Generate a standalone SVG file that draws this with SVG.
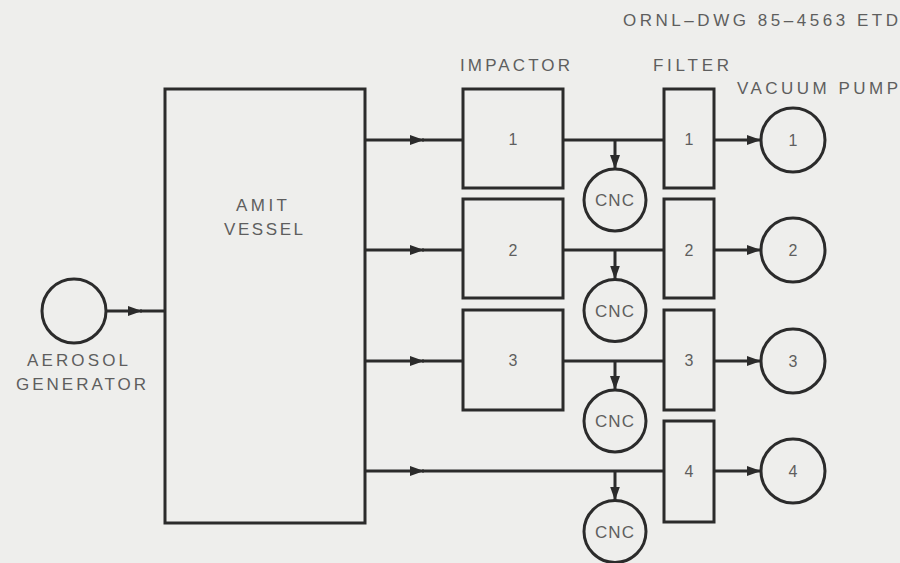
<svg xmlns="http://www.w3.org/2000/svg" width="900" height="563" viewBox="0 0 900 563">
<style>
.bg{fill:#eeeeec}
.box{fill:none;stroke:#2b2b2b;stroke-width:3}
.ln{fill:none;stroke:#2b2b2b;stroke-width:3}
.t{font-family:"Liberation Sans",Arial,sans-serif;font-size:17px;fill:#5e5e5e}
.n{font-size:16px}
.c{text-anchor:middle}
</style>
<defs>
<marker id="ah" viewBox="0 0 14 10" refX="14" refY="5" markerWidth="14" markerHeight="10" markerUnits="userSpaceOnUse" orient="auto">
<path d="M0,0 L14,5 L0,10 z" fill="#2b2b2b"/>
</marker>
</defs>
<rect class="bg" x="0" y="0" width="900" height="563"/>

<text class="t" x="623" y="26" textLength="275" lengthAdjust="spacing">ORNL–DWG 85–4563 ETD</text>
<text class="t" x="460" y="71" textLength="110" lengthAdjust="spacing">IMPACTOR</text>
<text class="t" x="653" y="71" textLength="76" lengthAdjust="spacing">FILTER</text>
<text class="t" x="737" y="94" textLength="161" lengthAdjust="spacing">VACUUM PUMP</text>

<g id="generator">
<circle class="box" cx="74" cy="311" r="32"/>
<text class="t" x="27" y="366" textLength="101" lengthAdjust="spacing">AEROSOL</text>
<text class="t" x="16" y="390" textLength="130" lengthAdjust="spacing">GENERATOR</text>
</g>

<g id="vessel">
<rect class="box" x="165" y="89" width="200" height="434"/>
<text class="t" x="236" y="211" textLength="51" lengthAdjust="spacing">AMIT</text>
<text class="t" x="224" y="235" textLength="79" lengthAdjust="spacing">VESSEL</text>
</g>

<g id="impactor1"><rect class="box" x="463" y="89" width="100" height="99"/><text class="t n c" x="513" y="145">1</text></g>
<g id="impactor2"><rect class="box" x="463" y="199" width="100" height="99"/><text class="t n c" x="513" y="256">2</text></g>
<g id="impactor3"><rect class="box" x="463" y="310" width="100" height="100"/><text class="t n c" x="513" y="366">3</text></g>

<g id="filter1"><rect class="box" x="664" y="89" width="50" height="99"/><text class="t n c" x="689" y="145">1</text></g>
<g id="filter2"><rect class="box" x="664" y="199" width="50" height="99"/><text class="t n c" x="689" y="256">2</text></g>
<g id="filter3"><rect class="box" x="664" y="310" width="50" height="100"/><text class="t n c" x="689" y="366">3</text></g>
<g id="filter4"><rect class="box" x="664" y="421" width="50" height="101"/><text class="t n c" x="689" y="477">4</text></g>

<g id="pump1"><circle class="box" cx="793" cy="140" r="32"/><text class="t n c" x="793" y="146">1</text></g>
<g id="pump2"><circle class="box" cx="793" cy="250" r="32"/><text class="t n c" x="793" y="256">2</text></g>
<g id="pump3"><circle class="box" cx="793" cy="361" r="32"/><text class="t n c" x="793" y="367">3</text></g>
<g id="pump4"><circle class="box" cx="793" cy="471" r="32"/><text class="t n c" x="793" y="477">4</text></g>

<g id="cnc1"><circle class="box" cx="615" cy="200" r="31"/><text class="t c" x="615" y="206" letter-spacing="1">CNC</text></g>
<g id="cnc2"><circle class="box" cx="615" cy="310.5" r="31"/><text class="t c" x="615" y="316.5" letter-spacing="1">CNC</text></g>
<g id="cnc3"><circle class="box" cx="615" cy="421" r="31"/><text class="t c" x="615" y="427" letter-spacing="1">CNC</text></g>
<g id="cnc4"><circle class="box" cx="615" cy="531.5" r="31"/><text class="t c" x="615" y="537.5" letter-spacing="1">CNC</text></g>

<g id="connectors">
<line class="ln" x1="106" y1="311" x2="142" y2="311" marker-end="url(#ah)"/>
<line class="ln" x1="140" y1="311" x2="165" y2="311"/>

<line class="ln" x1="365" y1="140" x2="424" y2="140" marker-end="url(#ah)"/>
<line class="ln" x1="422" y1="140" x2="463" y2="140"/>
<line class="ln" x1="365" y1="250" x2="424" y2="250" marker-end="url(#ah)"/>
<line class="ln" x1="422" y1="250" x2="463" y2="250"/>
<line class="ln" x1="365" y1="361" x2="424" y2="361" marker-end="url(#ah)"/>
<line class="ln" x1="422" y1="361" x2="463" y2="361"/>
<line class="ln" x1="365" y1="471" x2="424" y2="471" marker-end="url(#ah)"/>
<line class="ln" x1="422" y1="471" x2="664" y2="471"/>

<line class="ln" x1="563" y1="140" x2="664" y2="140"/>
<line class="ln" x1="563" y1="250" x2="664" y2="250"/>
<line class="ln" x1="563" y1="361" x2="664" y2="361"/>

<line class="ln" x1="615" y1="140" x2="615" y2="169" marker-end="url(#ah)"/>
<line class="ln" x1="615" y1="250" x2="615" y2="279.5" marker-end="url(#ah)"/>
<line class="ln" x1="615" y1="361" x2="615" y2="390" marker-end="url(#ah)"/>
<line class="ln" x1="615" y1="471" x2="615" y2="500.5" marker-end="url(#ah)"/>

<line class="ln" x1="714" y1="140" x2="761" y2="140" marker-end="url(#ah)"/>
<line class="ln" x1="714" y1="250" x2="761" y2="250" marker-end="url(#ah)"/>
<line class="ln" x1="714" y1="361" x2="761" y2="361" marker-end="url(#ah)"/>
<line class="ln" x1="714" y1="471" x2="761" y2="471" marker-end="url(#ah)"/>
</g>
</svg>
